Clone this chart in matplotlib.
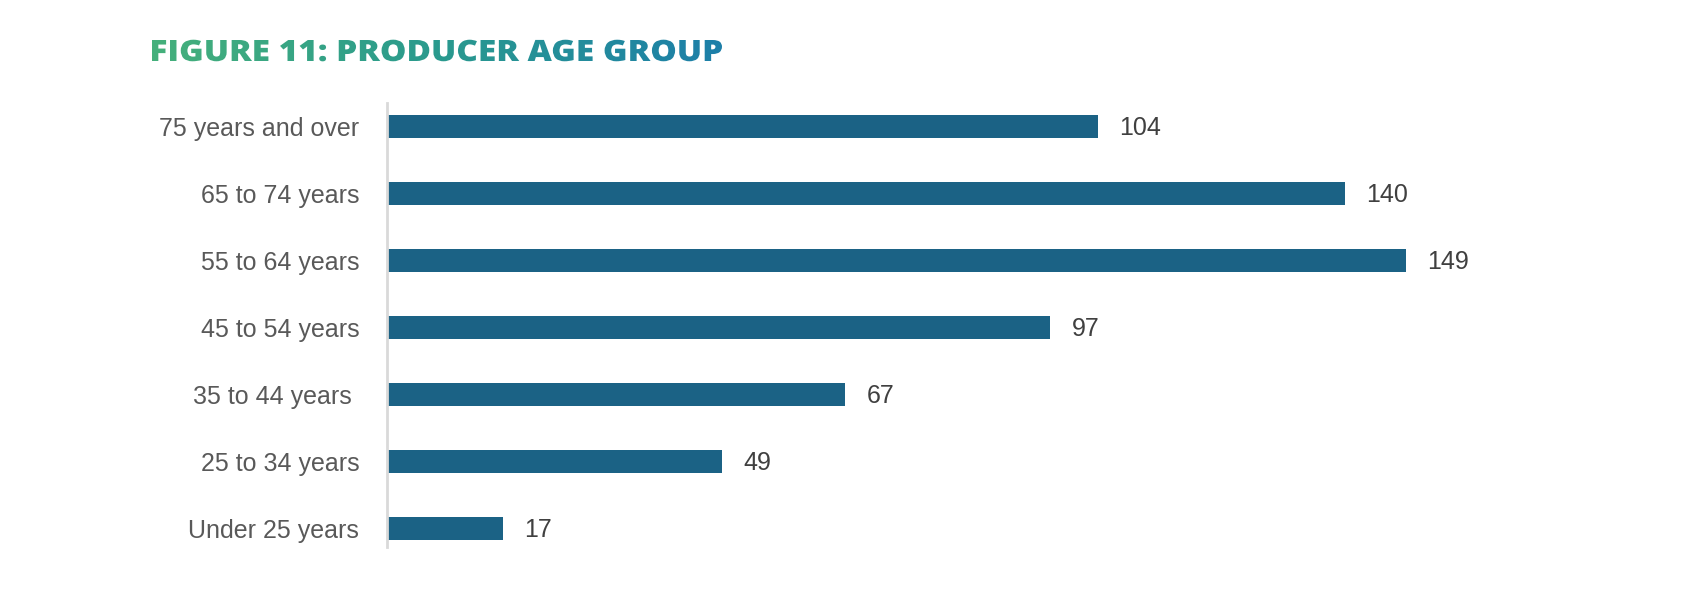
import matplotlib
matplotlib.use("Agg")
import matplotlib.pyplot as plt
import numpy as np
from matplotlib.textpath import TextPath
from matplotlib.patches import PathPatch
from matplotlib.font_manager import FontProperties
from matplotlib.transforms import Affine2D
from matplotlib.colors import LinearSegmentedColormap

# data, bottom to top
categories = ["Under 25 years", "25 to 34 years", "35 to 44 years ", "45 to 54 years",
              "55 to 64 years", "65 to 74 years", "75 years and over"]
producers = [17, 49, 67, 97, 149, 140, 104]

title = "FIGURE 11: PRODUCER AGE GROUP"

bar_color = "#1b6285"
label_color = "#595959"
value_color = "#404040"

plt.rcParams["font.family"] = ["Liberation Sans", "DejaVu Sans"]

W, H = 1700, 593
fig = plt.figure(figsize=(W / 100, H / 100), dpi=100)
fig.patch.set_facecolor("white")

ax = fig.add_axes([387 / W, 1 - 547 / H, (1600 - 387) / W, (547 - 103) / H])
y = np.arange(len(categories))
ax.barh(y, producers, height=0.345, color=bar_color)
for yi, v in zip(y, producers):
    ax.text(v + 3.1, yi - 0.135, str(v), va="baseline", ha="left",
            fontsize=18, color=value_color)

ax.set_xlim(0, (1600 - 387) / 6.84)
ax.set_ylim(-0.28, len(categories) - 1 + 0.35)
ax.set_yticks(y)
ax.set_yticklabels(categories, fontsize=18, color=label_color)
ax.tick_params(axis="y", length=0, pad=20)
ax.set_xticks([])
for s in ["top", "right", "bottom"]:
    ax.spines[s].set_visible(False)
ax.spines["left"].set_color("#d9d9d9")
ax.spines["left"].set_linewidth(2)

# gradient title drawn as clipped text path
tax = fig.add_axes([0, 0, 1, 1])
tax.set_xlim(0, W)
tax.set_ylim(0, H)
tax.axis("off")
fp = FontProperties(family="Open Sans", weight="heavy")
tp = TextPath((0, 0), title, size=40, prop=fp)
cap = TextPath((0, 0), "F", size=40, prop=fp).get_extents().height
ext = tp.get_extents()
sx = (722 - 152) / ext.width
sy = 21 / cap
tr = Affine2D().translate(-ext.x0, 0).scale(sx, sy).translate(152, H - 61)
path = tr.transform_path(tp)
patch = PathPatch(path, facecolor="none", edgecolor="none")
tax.add_patch(patch)
cmap = LinearSegmentedColormap.from_list("title", ["#45b07b", "#2a9a8e", "#1d7fa9"])
grad = np.linspace(0, 1, 256).reshape(1, -1)
pe = path.get_extents()
im = tax.imshow(grad, cmap=cmap, aspect="auto",
                extent=[pe.x0, pe.x1, pe.y0 - 2, pe.y1 + 2])
im.set_clip_path(patch)
tax.set_xlim(0, W)
tax.set_ylim(0, H)

fig.savefig("out.png", dpi=100)
